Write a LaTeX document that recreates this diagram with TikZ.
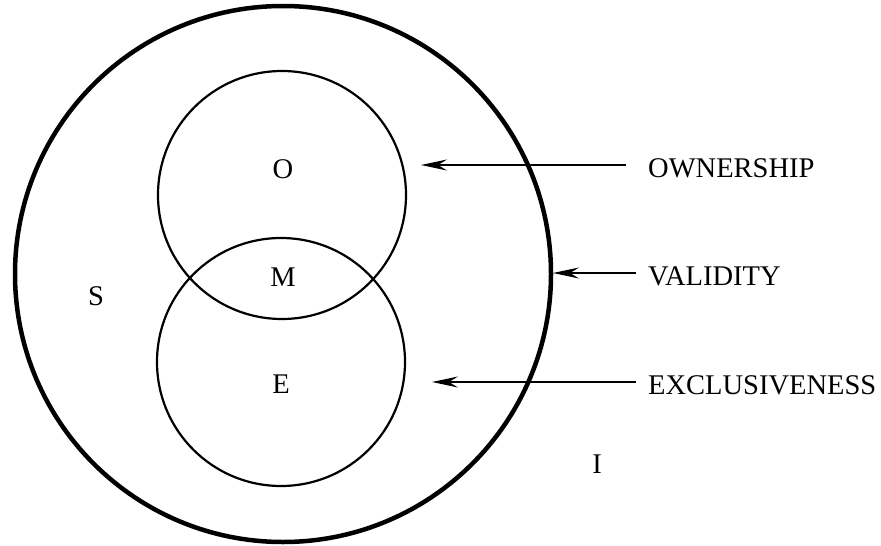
\documentclass[tikz,border=0pt]{standalone}
\usepackage{fontspec}
\setmainfont{Liberation Serif}
\usetikzlibrary{arrows.meta}
\tikzset{
  setlabel/.style={font=\fontsize{28.5}{34}\selectfont, inner sep=0pt},
  proplabel/.style={setlabel, anchor=west},
  setring/.style={line width=2.2pt},
  outerring/.style={line width=4.5pt},
  proparrow/.style={-{Stealth[length=26pt,width=11pt,inset=9pt]}, line width=1.3pt},
}

\begin{document}
\begin{tikzpicture}[x=1pt,y=-1pt]
  \useasboundingbox (0,0) rectangle (881,546);
  % the three sets
  \draw[outerring] (283,274) circle[radius=268pt];
  \draw[setring] (282,195) circle[radius=124pt];
  \draw[setring] (281,362) circle[radius=124pt];
  % set names
  \node[setlabel] (o) at (283,169) {O};
  \node[setlabel] (m) at (283,277) {M};
  \node[setlabel] (e) at (281,384) {E};
  \node[setlabel] (s) at (96,296) {S};
  \node[setlabel] (i) at (597,464) {I};
  % properties
  \node[proplabel] (own) at (648,168) {OWNERSHIP};
  \node[proplabel] (val) at (648,276) {VALIDITY};
  \node[proplabel] (excl) at (648,385) {EXCLUSIVENESS};
  \coordinate (ownTip) at (421,165);
  \coordinate (valTip) at (553,273);
  \coordinate (exclTip) at (432,382);
  \draw[proparrow] ([xshift=-22pt]own.west |- ownTip) -- (ownTip);
  \draw[proparrow] ([xshift=-12pt]val.west |- valTip) -- (valTip);
  \draw[proparrow] ([xshift=-12pt]excl.west |- exclTip) -- (exclTip);
\end{tikzpicture}
\end{document}
